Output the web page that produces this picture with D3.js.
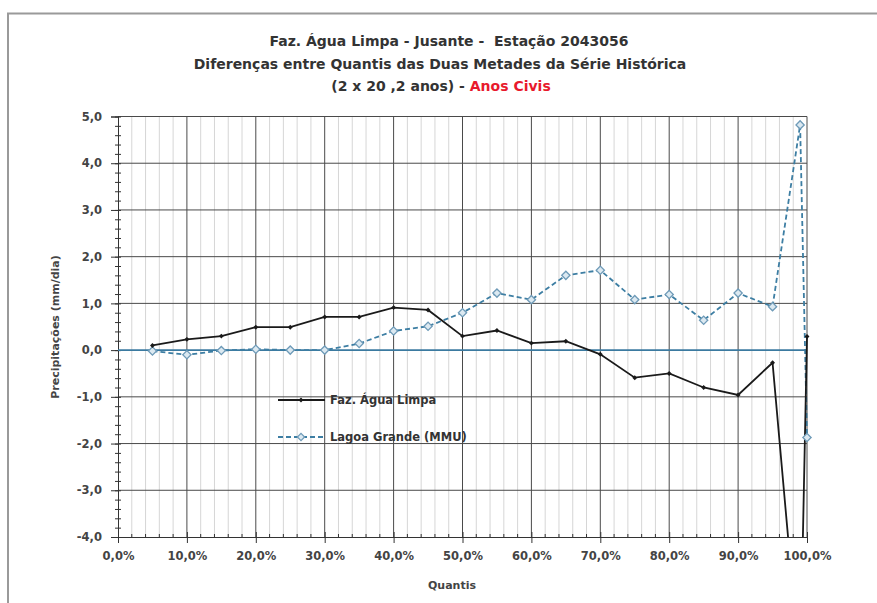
<!DOCTYPE html>
<html>
<head>
<meta charset="utf-8">
<script src="https://cdn.jsdelivr.net/npm/d3@7"></script>
<style>
  html, body { margin: 0; padding: 0; background: #fff; }
  svg { display: block; }
  text { font-family: "DejaVu Sans", sans-serif; font-weight: bold; white-space: pre; }
</style>
</head>
<body>
<svg id="chart" width="877" height="603"></svg>
<script>
// ---- data ----
const quantis = [5, 10, 15, 20, 25, 30, 35, 40, 45, 50, 55, 60, 65, 70, 75, 80, 85, 90, 95, 99, 100];
const fazAguaLimpa = [0.10, 0.23, 0.30, 0.49, 0.49, 0.71, 0.71, 0.91, 0.86, 0.30, 0.42, 0.15, 0.19, -0.09, -0.59, -0.50, -0.80, -0.96, -0.27, -6.9, 0.29];
const lagoaGrande = [-0.02, -0.10, -0.01, 0.02, 0.00, 0.00, 0.14, 0.41, 0.51, 0.80, 1.22, 1.08, 1.60, 1.71, 1.08, 1.19, 0.64, 1.22, 0.93, 4.82, -1.87];
const yTicks = [-4, -3, -2, -1, 0, 1, 2, 3, 4, 5];
const xTicks = [0, 10, 20, 30, 40, 50, 60, 70, 80, 90, 100];
const titleLines = ["Faz. Água Limpa - Jusante -  Estação 2043056", "Diferenças entre Quantis das Duas Metades da Série Histórica"];
const titleLine3a = "(2 x 20 ,2 anos) - ";
const titleLine3b = "Anos Civis";
const yLabel = "Precipitações (mm/dia)";
const xLabel = "Quantis";
const seriesNames = ["Faz. Água Limpa", "Lagoa Grande (MMU)"];

// ---- layout ----
const svg = d3.select("#chart");
const L = 118, R = 807, T = 116.5, B = 537;
const x = d3.scaleLinear().domain([0, 100]).range([L, R]);
const y = d3.scaleLinear().domain([-4, 5]).range([B, T]);
const fmt1 = v => d3.format(".1f")(v).replace(".", ",").replace("−", "-");

// outer frame (only top & left visible)
svg.append("path").attr("d", "M8,900 L8,13.5 L900,13.5")
  .attr("fill", "none").attr("stroke", "#9a9a9a").attr("stroke-width", 2);

// minor vertical gridlines every 2%
const minorX = d3.range(0, 100.01, 2).filter(v => v % 10 !== 0);
svg.append("g").selectAll("line").data(minorX).join("line")
  .attr("x1", d => x(d)).attr("x2", d => x(d)).attr("y1", T).attr("y2", B)
  .attr("stroke", "#d6d6d6").attr("stroke-width", 1);

// major vertical gridlines
svg.append("g").selectAll("line").data(xTicks.filter(d => d > 0)).join("line")
  .attr("x1", d => x(d)).attr("x2", d => x(d)).attr("y1", T).attr("y2", B)
  .attr("stroke", "#4a4a4a").attr("stroke-width", 1);

// major horizontal gridlines
svg.append("g").selectAll("line").data(yTicks.filter(d => d !== 0 && d !== -4)).join("line")
  .attr("x1", L).attr("x2", R).attr("y1", d => y(d)).attr("y2", d => y(d))
  .attr("stroke", "#4a4a4a").attr("stroke-width", 1);

// axes
const yAxisMinor = d3.axisLeft(y).tickValues(d3.range(-4, 5.001, 0.2)).tickSize(3).tickFormat("");
svg.append("g").attr("transform", `translate(${L},0)`).call(yAxisMinor)
  .call(g => g.select(".domain").remove())
  .selectAll("line").attr("stroke", "#333").attr("x2", 3).attr("x1", -3);
const yAxis = d3.axisLeft(y).tickValues(yTicks).tickSize(7).tickFormat(fmt1);
const ya = svg.append("g").attr("transform", `translate(${L},0)`).call(yAxis);
ya.select(".domain").attr("stroke", "#333");
ya.selectAll(".tick line").attr("stroke", "#333");
ya.selectAll("text").attr("font-size", 11.5).attr("fill", "#444").attr("x", -16)
  .style("font-family", "DejaVu Sans").style("font-weight", "bold");

svg.append("g").attr("transform", `translate(0,${B})`)
  .selectAll("line").data(minorX).join("line")
  .attr("x1", d => x(d)).attr("x2", d => x(d)).attr("y1", -3).attr("y2", 0)
  .attr("stroke", "#333");
const xAxis = d3.axisBottom(x).tickValues(xTicks).tickSize(6).tickFormat(d => fmt1(d) + "%");
const xa = svg.append("g").attr("transform", `translate(0,${B})`).call(xAxis);
xa.select(".domain").attr("stroke", "#333");
xa.selectAll(".tick line").attr("stroke", "#333").attr("y1", -5);
xa.selectAll("text").attr("font-size", 11.5).attr("fill", "#444").attr("y", 15).attr("dy", "0.71em")
  .style("font-family", "DejaVu Sans").style("font-weight", "bold");

// zero line
svg.append("line").attr("x1", L).attr("x2", R).attr("y1", y(0)).attr("y2", y(0))
  .attr("stroke", "#3b7aa0").attr("stroke-width", 1.6);

// clip
svg.append("clipPath").attr("id", "clip").append("rect")
  .attr("x", L).attr("y", T - 6).attr("width", R - L + 6).attr("height", B - T + 6);

const plot = svg.append("g").attr("clip-path", "url(#clip)");
const line = d3.line().x(d => x(d[0])).y(d => y(d[1]));
const blackData = quantis.map((q, i) => [q, fazAguaLimpa[i]]);
const blueData = quantis.map((q, i) => [q, lagoaGrande[i]]);

plot.append("path").datum(blueData).attr("d", line).attr("fill", "none")
  .attr("stroke", "#3d7ea3").attr("stroke-width", 1.8).attr("stroke-dasharray", "5,3");
plot.append("path").datum(blackData).attr("d", line).attr("fill", "none")
  .attr("stroke", "#1a1a1a").attr("stroke-width", 1.8);

const sq = d3.symbol().type(d3.symbolSquare);
plot.append("g").selectAll("path").data(blueData).join("path")
  .attr("transform", d => `translate(${x(d[0])},${y(d[1])}) rotate(45)`)
  .attr("d", sq.size(34)())
  .attr("fill", "#dce9f1").attr("stroke", "#6f9bb8").attr("stroke-width", 1.3);
plot.append("g").selectAll("path").data(blackData).join("path")
  .attr("transform", d => `translate(${x(d[0])},${y(d[1])}) rotate(45)`)
  .attr("d", d3.symbol().type(d3.symbolSquare).size(12)())
  .attr("fill", "#1a1a1a");

// titles
const title = svg.append("g").attr("text-anchor", "middle").attr("font-size", 14).attr("fill", "#333");
title.append("text").attr("x", 449).attr("y", 46).text(titleLines[0]);
title.append("text").attr("x", 440).attr("y", 69).text(titleLines[1]);
const t3 = title.append("text").attr("x", 441).attr("y", 91);
t3.append("tspan").text(titleLine3a);
t3.append("tspan").attr("fill", "#e8192c").text(titleLine3b);

// axis labels
svg.append("text").attr("transform", "translate(59,327) rotate(-90)")
  .attr("text-anchor", "middle").attr("font-size", 11).attr("fill", "#444").text(yLabel);
svg.append("text").attr("x", 452).attr("y", 589)
  .attr("text-anchor", "middle").attr("font-size", 11).attr("fill", "#444").text(xLabel);

// legend
const leg = svg.append("g");
leg.append("line").attr("x1", 278).attr("x2", 325).attr("y1", 400).attr("y2", 400)
  .attr("stroke", "#1a1a1a").attr("stroke-width", 1.8);
leg.append("path").attr("transform", "translate(301,400) rotate(45)")
  .attr("d", d3.symbol().type(d3.symbolSquare).size(12)()).attr("fill", "#1a1a1a");
leg.append("text").attr("x", 330).attr("y", 404).attr("font-size", 11.5).attr("fill", "#333").text(seriesNames[0]);
leg.append("line").attr("x1", 278).attr("x2", 325).attr("y1", 437).attr("y2", 437)
  .attr("stroke", "#3d7ea3").attr("stroke-width", 1.8).attr("stroke-dasharray", "5,3");
leg.append("path").attr("transform", "translate(301,437) rotate(45)")
  .attr("d", d3.symbol().type(d3.symbolSquare).size(26)()).attr("fill", "#dce9f1")
  .attr("stroke", "#6f9bb8").attr("stroke-width", 1.2);
leg.append("text").attr("x", 330).attr("y", 441).attr("font-size", 11.5).attr("fill", "#333").text(seriesNames[1]);
</script>
</body>
</html>
